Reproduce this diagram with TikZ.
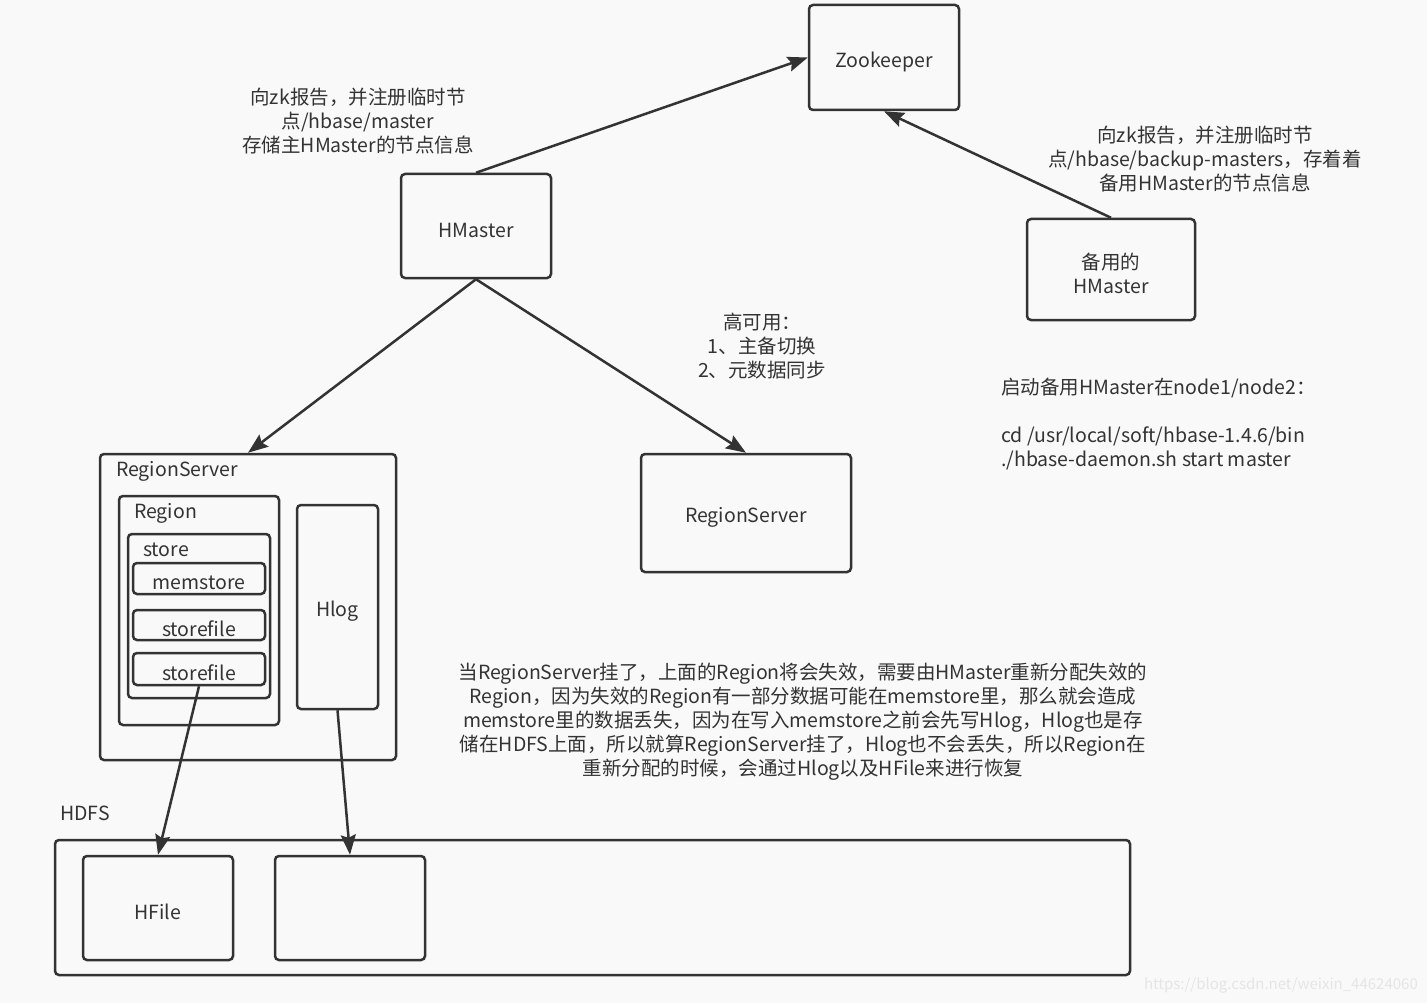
\documentclass[tikz,border=0pt]{standalone}
\usepackage{fontspec}
\setmainfont{Noto Sans CJK SC}
\usetikzlibrary{arrows.meta, positioning}
\definecolor{ink}{HTML}{333333}
\definecolor{paper}{HTML}{F9F9F9}
\tikzset{
  box/.style={rectangle,draw=ink,line width=2.5pt,rounded corners=4pt,inner sep=2pt},
  boxtxt/.style={align=center,text=ink,inner sep=0pt,yshift=-4pt},
  note/.style={align=center,text=ink,inner sep=0pt},
  tag/.style={anchor=west,text=ink,inner sep=0pt,yshift=-2pt},
  line/.style={draw=ink,line width=2.5pt,-{Stealth[length=20pt,width=15pt,inset=3pt]}}
}

\begin{document}
\begin{tikzpicture}[x=1pt,y=-1pt,font=\fontsize{19.5}{24}\selectfont]
\fill[paper] (0,0) rectangle (1427,1003);
\useasboundingbox (0,0) rectangle (1427,1003);

% master side
\node[box, minimum width=150, minimum height=105, label={[boxtxt]center:Zookeeper}] (zk) at (884,57.5) {};
\node[box, minimum width=150, minimum height=104, label={[boxtxt]center:HMaster}] (hm) at (476,226) {};
\node[box, minimum width=168, minimum height=101, label={[boxtxt]center:备用的\\HMaster}] (bhm) at (1111,269.5) {};
\node[box, minimum width=210, minimum height=118, label={[boxtxt]center:RegionServer}] (rs2) at (746,513) {};

% regionserver internals
\node[box, minimum width=296, minimum height=306] (rs1) at (248,607) {};
\node[tag] (rs1t) at (116,469) {RegionServer};
\node[box, minimum width=160, minimum height=229] (reg) at (199,610.5) {};
\node[tag] (regt) at (134,511) {Region};
\node[box, minimum width=142, minimum height=164] (st) at (199,616) {};
\node[tag] (stt) at (143,548) {store};
\node[box, minimum width=132, minimum height=31, label={[boxtxt]center:memstore}] (ms) at (199,578.5) {};
\node[box, minimum width=132, minimum height=30, label={[boxtxt]center:storefile}] (sf1) at (199,625) {};
\node[box, minimum width=132, minimum height=32, label={[boxtxt]center:storefile}] (sf2) at (199,669) {};
\node[box, minimum width=81, minimum height=204, label={[boxtxt]center:Hlog}] (hlog) at (337.5,607) {};

% hdfs
\node[tag] (hdfst) at (60,811) {HDFS};
\node[box, minimum width=1075, minimum height=135] (hdfs) at (592.5,907.5) {};
\node[box, minimum width=150, minimum height=104, label={[boxtxt]center:HFile}] (hf) at (158,908) {};
\node[box, minimum width=150, minimum height=104] (hl) at (350,908) {};

% notes
\node[note] (n1) at (358,121) {向zk报告，并注册临时节\\点/hbase/master\\存储主HMaster的节点信息};
\node[note] (n2) at (1205,159) {向zk报告，并注册临时节\\点/hbase/backup-masters，存着着\\备用HMaster的节点信息};
\node[note] (n3) at (762,346) {高可用：\\1、主备切换\\2、元数据同步};
\node[note, align=left, anchor=north west, yshift=-4pt] (n4) at (1001,374) {启动备用HMaster在node1/node2：\\[24pt]cd /usr/local/soft/hbase-1.4.6/bin\\./hbase-daemon.sh start master};
\node[note] (n5) at (803,722) {当RegionServer挂了，上面的Region将会失效，需要由HMaster重新分配失效的\\Region，因为失效的Region有一部分数据可能在memstore里，那么就会造成\\memstore里的数据丢失，因为在写入memstore之前会先写Hlog，Hlog也是存\\储在HDFS上面，所以就算RegionServer挂了，Hlog也不会丢失，所以Region在\\重新分配的时候，会通过Hlog以及HFile来进行恢复};
\node[anchor=east, text=black!10, font=\fontsize{15}{18}\selectfont, inner sep=0pt] (wm) at (1418,985) {https://blog.csdn.net/weixin\_44624060};

\draw[line] (hm.north) -- (zk.west);
\draw[line] (bhm.north) -- (zk.south);
\draw[line] (hm.south) -- (rs1.north);
\draw[line] (hm.south) -- (rs2.north);
\draw[line] (sf2.south) -- (hf.north);
\draw[line] (hlog.south) -- (hl.north);
\end{tikzpicture}
\end{document}
